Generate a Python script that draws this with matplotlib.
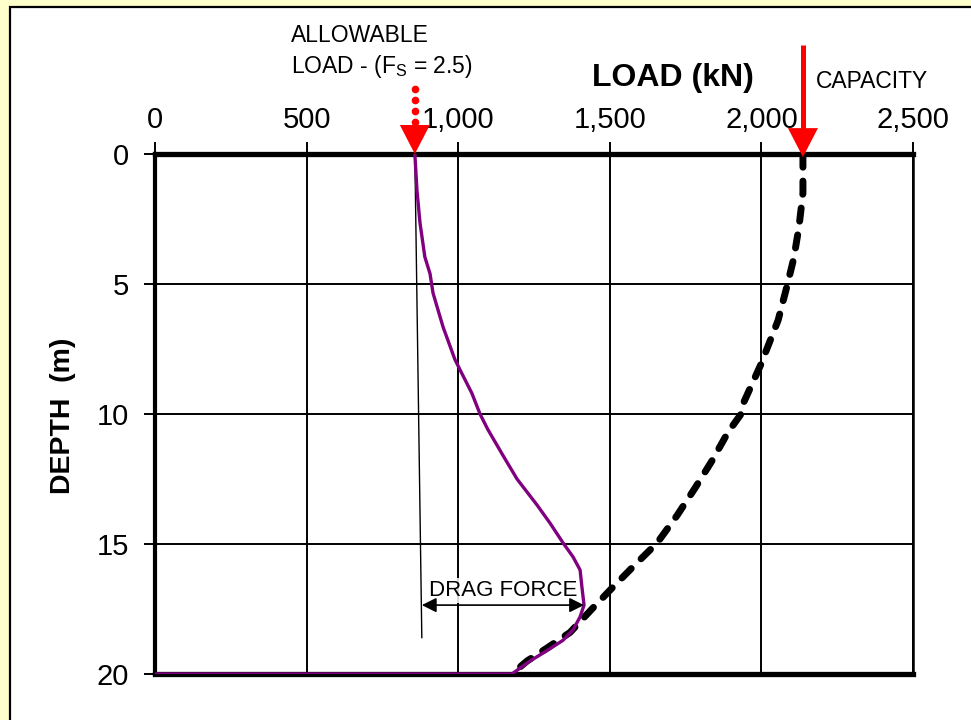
import matplotlib
matplotlib.use("Agg")
import matplotlib.pyplot as plt
from matplotlib.patches import Rectangle, Polygon

plt.rcParams['font.family'] = ['Liberation Sans', 'DejaVu Sans']

# Pile load distribution with depth
capacity_depth = [0.0, 1.5, 2.8, 4.0, 5.1, 6.4, 7.5, 8.05, 9.7, 10.0, 10.7, 11.8,
                  12.85, 13.9, 14.96, 15.8, 16.65, 17.5, 18.4, 19.0, 19.5, 20.0]
capacity_load = [2137, 2137, 2124, 2107, 2084, 2055, 2018, 2000, 1936, 1933, 1890, 1837,
                 1781, 1722, 1656, 1583, 1511, 1441, 1369, 1293, 1227, 1177]

axial_depth = [0.0, 1.4, 2.65, 3.96, 4.6, 5.35, 6.65, 7.9, 8.3, 9.2, 10.0, 10.6, 11.6,
               12.5, 13.0, 13.5, 14.2, 14.96, 15.5, 16.0, 16.65, 17.35, 17.8, 18.3,
               18.7, 19.1, 19.5, 20.0, 20.0]
axial_load = [857, 864, 874, 890, 907, 917, 950, 989, 1006, 1045, 1072, 1098, 1148,
              1194, 1227, 1260, 1303, 1346, 1379, 1402, 1408, 1415, 1402, 1379,
              1346, 1293, 1237, 1177, 0]

neutral_line_depth = [0.0, 18.6]
neutral_line_load = [857, 880]

allowable_load = 857
ultimate_capacity = 2137
drag_depth = 17.35
drag_start = 880
drag_end = 1415

x_ticks = [0, 500, 1000, 1500, 2000, 2500]
x_tick_labels = ["0", "500", "1,000", "1,500", "2,000", "2,500"]
y_ticks = [0, 5, 10, 15, 20]
y_tick_labels = ["0", "5", "10", "15", "20"]

W, H = 971, 720
fig = plt.figure(figsize=(W / 100, H / 100), dpi=100)
fig.patch.set_facecolor('#FFFFCC')

# white panel with black border
fig.patches.append(Rectangle((10 / W, -0.1), 1.2, 1 - 7 / H + 0.1,
                             transform=fig.transFigure, facecolor='white',
                             edgecolor='black', linewidth=1.6, zorder=-10))

ax = fig.add_axes([155 / W, 1 - 674 / H, (913 - 155) / W, (674 - 154) / H])
ax.set_zorder(1)
ax.set_xlim(0, 2500)
ax.set_ylim(20, 0)
ax.set_facecolor('white')

ax.xaxis.tick_top()
ax.set_xticks(x_ticks)
ax.set_xticklabels(x_tick_labels)
ax.set_yticks(y_ticks)
ax.set_yticklabels(y_tick_labels)
ax.tick_params(axis='x', which='major', direction='out', length=9, width=1.4,
               pad=5.5, labelsize=21, top=True, bottom=False)
ax.tick_params(axis='y', which='major', direction='out', length=8, width=1.4,
               pad=10.5, labelsize=21)

ax.grid(True, color='black', linewidth=1.4)
ax.set_axisbelow(True)

for side, lw in (('top', 3.8), ('left', 3.0), ('bottom', 3.8), ('right', 1.8)):
    ax.spines[side].set_linewidth(lw)
    ax.spines[side].set_color('black')

# thin reference line
ax.plot(neutral_line_load, neutral_line_depth, color='black', linewidth=1.0, zorder=3)

# capacity curve
ax.plot(capacity_load, capacity_depth, color='black', linewidth=5,
        linestyle=(0, (1.9, 2.0)), dash_capstyle='round', zorder=4)

# axial load curve
ax.plot(axial_load, axial_depth, color='#800080', linewidth=2.4, zorder=5)

# drag force arrow and label
ax.annotate('', xy=(drag_end, drag_depth), xytext=(drag_start, drag_depth),
            arrowprops=dict(arrowstyle='<|-|>', color='black', lw=1.2,
                            mutation_scale=22, shrinkA=0, shrinkB=0), zorder=6)
ax.text((drag_start + drag_end) / 2, drag_depth - 0.15, 'DRAG FORCE', ha='center',
        va='bottom', fontsize=16,
        bbox=dict(facecolor='white', edgecolor='none', alpha=0.85, pad=1.5), zorder=5.5)

# red arrow markers above the load axis
kx = 2500 / (913 - 155)   # kN per pixel
my = 20 / (674 - 154)     # m per pixel

def head(x_tip, y_tip):
    half = 15 * kx
    depth = 29 * my
    return Polygon([(x_tip - half, y_tip - depth), (x_tip + half, y_tip - depth),
                    (x_tip, y_tip)], closed=True, facecolor='#FF0000',
                   edgecolor='none', clip_on=False, zorder=8)

ax.add_patch(head(allowable_load, 0.0))
ax.plot([allowable_load] * 4, [-(154 - y) * my for y in (89, 100, 111, 122)],
        linestyle='none', marker='o', markersize=4.5, color='#FF0000',
        clip_on=False, zorder=8)

ax.add_patch(head(ultimate_capacity, 0.12))
ax.plot([ultimate_capacity, ultimate_capacity], [-(154 - 45) * my, -(154 - 132) * my],
        color='#FF0000', linewidth=3.6, solid_capstyle='butt', clip_on=False, zorder=8)

# titles and annotations
fig.text(673 / W, 1 - 78 / H, 'LOAD (kN)', ha='center', va='center',
         fontsize=23, fontweight='bold')
fig.text(63 / W, 1 - 416 / H, 'DEPTH  (m)', ha='center', va='center',
         fontsize=20.5, fontweight='bold', rotation=90)
fig.text(291 / W, 1 - 36 / H, 'ALLOWABLE', ha='left', va='center', fontsize=16.5)
fig.text(291 / W, 1 - 66 / H, r'LOAD - (F$_\mathregular{S}$ = 2.5)', ha='left',
         va='center', fontsize=16.5)
fig.text(816 / W, 1 - 81 / H, 'CAPACITY', ha='left', va='center', fontsize=16.5)

fig.savefig('out.png', dpi=100, facecolor=fig.get_facecolor())
